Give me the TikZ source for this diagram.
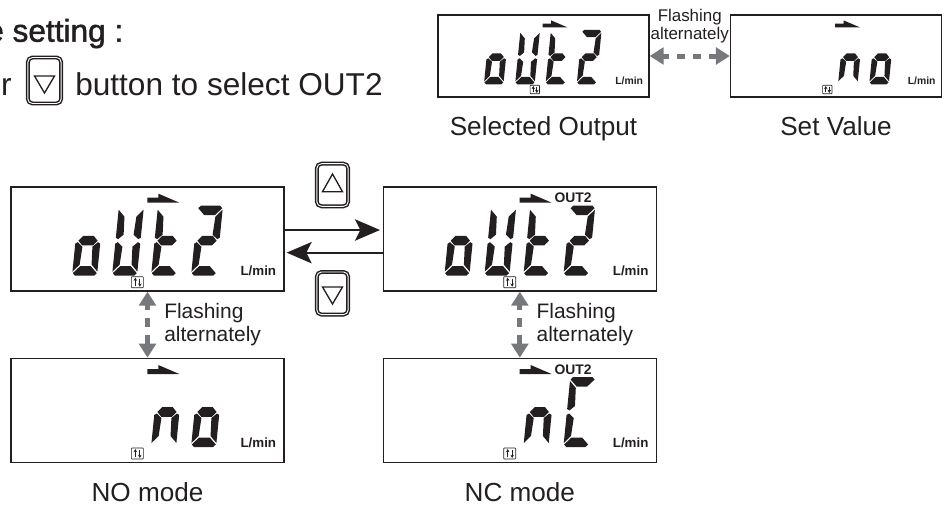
\documentclass[tikz,border=0pt]{standalone}
\usepackage{fontspec}
\setmainfont{Liberation Sans}
\newfontfamily\headfont[FakeBold=1.5]{Liberation Sans}
\usepackage{xcolor}
\usetikzlibrary{positioning,arrows.meta,calc}
\definecolor{ink}{HTML}{231F20}
\definecolor{flashgray}{HTML}{77787B}
\newcommand{\sega}{(3,-70) -- (23,-70) -- (25.5,-67.5) -- (18.5,-60.5) -- (7.5,-60.5) -- (0.5,-67.5) -- cycle}
\newcommand{\segb}{(26,-66) -- (19.2,-59) -- (18.2,-41) -- (23.5,-36.5) -- (26,-38) -- cycle}
\newcommand{\segc}{(26,-4) -- (19.2,-11) -- (18.2,-29) -- (23.5,-33.5) -- (26,-32) -- cycle}
\newcommand{\segd}{(3,0) -- (23,0) -- (25.5,-2.5) -- (18.5,-9.5) -- (7.5,-9.5) -- (0.5,-2.5) -- cycle}
\newcommand{\sege}{(0,-4) -- (6.8,-11) -- (7.8,-29) -- (2.5,-33.5) -- (0,-32) -- cycle}
\newcommand{\segf}{(0,-66) -- (6.8,-59) -- (7.8,-41) -- (2.5,-36.5) -- (0,-38) -- cycle}
\newcommand{\segg}{(7.5,-39.8) -- (18.5,-39.8) -- (23,-35) -- (18.5,-30.2) -- (7.5,-30.2) -- (3,-35) -- cycle}
\tikzset{
  pics/digit/.style={code={
    \foreach \segname in {#1} {
      \expandafter\let\expandafter\segpath\csname seg\segname\endcsname
      \fill[ink,xslant=0.1,xscale=0.96] \segpath;
    }
  }},
  pics/lcdbase/.style={code={
    \fill[ink] (137,-89) -- (137,-94) -- (148,-94) -- (148,-98) -- (169,-89) -- cycle;
    \draw[ink,line width=0.5pt,rounded corners=0.5pt] (121,-4) rectangle (133,-15);
    \draw[ink,line width=0.7pt,-{Stealth[length=2.4pt,width=2.6pt]}] (125,-6) -- (125,-14);
    \draw[ink,line width=0.7pt,-{Stealth[length=2.4pt,width=2.6pt]}] (129.5,-13) -- (129.5,-5);
    \node[unit] (unit) at (248,-16) {L/min};
  }},
  pics/wordout/.style={code={
    \pic {lcdbase};
    \pic at (61.7,-16) {digit={e,c,d,g}};
    \pic at (101.7,-16) {digit={f,b,e,c,d}};
    \pic at (140.7,-16) {digit={f,e,g,d}};
    \pic at (180.7,-16) {digit={a,b,g,e,d}};
  }},
  pics/wordno/.style={code={
    \pic {lcdbase};
    \pic at (140.7,-16) {digit={e,c,g}};
    \pic at (180.7,-16) {digit={e,c,d,g}};
  }},
  pics/wordnc/.style={code={
    \pic {lcdbase};
    \pic at (140.7,-16) {digit={e,c,g}};
    \pic at (180.7,-16) {digit={a,f,e,d}};
  }}
}

\begin{document}
\begin{tikzpicture}[
  x=0.75pt,y=-0.75pt,
  ink,
  panel/.style={draw=ink,line width=1pt,minimum width=204.75pt,minimum height=78pt,inner sep=0pt},
  smallpanel/.style={draw=ink,line width=1pt,minimum width=158.25pt,minimum height=61.5pt,inner sep=0pt},
  unit/.style={anchor=base,inner sep=0pt,font=\fontsize{10}{12}\selectfont\bfseries},
  tinypic/.style={x=0.585pt,y=-0.585pt,unit/.append style={font=\fontsize{7.8}{9}\selectfont\bfseries}},
  outtag/.style={anchor=base,inner sep=0pt,font=\fontsize{10.4}{12}\selectfont\bfseries},
  caption/.style={inner sep=0pt,font=\fontsize{19.6}{22}\selectfont},
  lead/.style={inner sep=0pt,font=\fontsize{23.7}{28}\selectfont},
  flashtext/.style={align=left,inner sep=0pt,font=\fontsize{15.7}{17.5}\selectfont},
  btn/.style={draw=ink,double,double distance=0.7pt,line width=1.1pt,rounded corners=3.5pt,inner sep=0pt},
  tri/.style={draw=ink,line width=1pt,line join=miter},
  flow/.style={-{Stealth[length=18.75pt,width=16pt,inset=4pt]},line width=1.6pt,ink},
  flash/.style={{Triangle[length=10.5pt,width=12.5pt]}-{Triangle[length=10.5pt,width=12.5pt]},line width=3.75pt,flashgray}
]
\useasboundingbox (0,0) rectangle (947,504);
\node[panel] (outno) at (147.5,239) {};
\node[panel,right=73.5pt of outno] (outnc) {};
\node[panel,below=49.5pt of outno] (valno) {};
\node[panel,below=49.5pt of outnc] (valnc) {};
\node[smallpanel] (selout) at (543.5,56) {};
\node[smallpanel] (setval) at (836,56) {};

\pic (outnolcd) at (outno.south west) {wordout};
\pic (outnclcd) at (outnc.south west) {wordout};
\pic (valnolcd) at (valno.south west) {wordno};
\pic (valnclcd) at (valnc.south west) {wordnc};
\pic[tinypic] (seloutlcd) at ($(selout.south west)+(-2,-1)$) {wordout};
\pic[tinypic] (setvallcd) at ($(setval.south west)+(-2,-1)$) {wordno};
\node[outtag] (tagout) at ($(outnc.south west)+(190.5,-89)$) {OUT2};
\node[outtag] (tagval) at ($(valnc.south west)+(190.5,-89)$) {OUT2};

\node[caption,below=14.25pt of selout] (capsel) {Selected Output};
\node[caption,below=14.25pt of setval] (capset) {Set Value};
\node[caption,below=14.5pt of valno] (capno) {NO mode};
\node[caption,below=14.5pt of valnc] (capnc) {NC mode};

\draw[flow] ([yshift=6.75pt]outno.east) -- ([yshift=6.75pt,xshift=-2pt]outnc.west);
\draw[flow] ([yshift=-10.25pt]outnc.west) -- ([yshift=-10.25pt,xshift=1.5pt]outno.east);
\draw[flash,dash pattern=on 6.75pt off 6pt,dash phase=3pt] (outno.south) -- (valno.north);
\draw[flash,dash pattern=on 6.75pt off 6pt,dash phase=3pt] (outnc.south) -- (valnc.north);
\draw[flash,dash pattern=on 6pt off 6pt,dash phase=1pt] (selout.east) -- (setval.west);

\node[flashtext,anchor=west,right=12.4pt of {$(outno.south)!0.5!(valno.north)$}] (flashno) {Flashing\\alternately};
\node[flashtext,anchor=west,right=12.4pt of {$(outnc.south)!0.5!(valnc.north)$}] (flashnc) {Flashing\\alternately};
\node[align=center,inner sep=0pt,font=\fontsize{12.7}{13.5}\selectfont] (flashtop) at ($(selout.east)!0.5!(setval.west)+(0,-30)$) {Flashing\\alternately};

\node[btn,minimum width=23.5pt,minimum height=32pt] (btnup) at (332.5,185) {};
\node[btn,minimum width=23.5pt,minimum height=32pt] (btndown) at (332.5,293.3) {};
\draw[tri] ($(btnup.center)+(0,-11)$) -- ++(10,17.7) -- ++(-20,0) -- cycle;
\draw[tri] ($(btndown.center)+(0,10.7)$) -- ++(10,-17) -- ++(-20,0) -- cycle;

\node[lead,anchor=base west,font=\fontsize{23.7}{28}\selectfont\headfont] (headline) at (-14,41.7) {e setting :};
\node[lead,anchor=base east] (orword) at (12,95) {or};
\node[btn,minimum width=25pt,minimum height=34.5pt] (btnsel) at (44.5,80.5) {};
\draw[tri] ($(btnsel.center)+(0,12.5)$) -- ++(10,-17) -- ++(-20,0) -- cycle;
\node[lead,anchor=base west] (selecttext) at (75,95) {button to select OUT2};
\end{tikzpicture}
\end{document}
